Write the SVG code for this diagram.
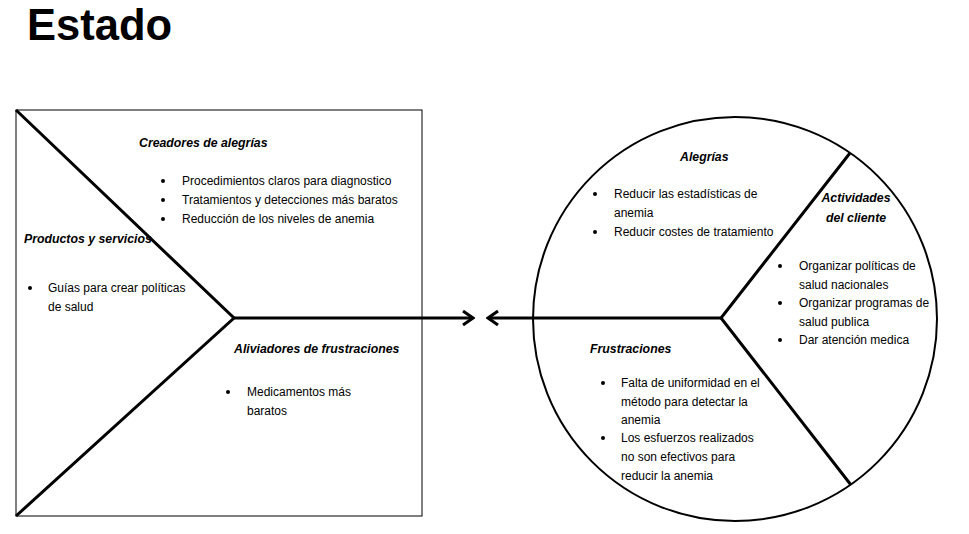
<svg xmlns="http://www.w3.org/2000/svg" width="969" height="534" viewBox="0 0 969 534">
<defs>
<style>
.t{font-family:"Liberation Sans",Arial,sans-serif;font-size:12px;fill:#000}
.h{font-family:"Liberation Sans",Arial,sans-serif;font-size:12.3px;font-weight:bold;font-style:italic;fill:#000}
.thick{stroke:#000;stroke-width:3;fill:none}
.b{fill:#000}
</style>
<marker id="chev" viewBox="0 0 14 16" refX="12" refY="8" markerWidth="14" markerHeight="16" markerUnits="userSpaceOnUse" orient="auto">
<polyline points="2,1 12,8 2,15" fill="none" stroke="#000" stroke-width="3"/>
</marker>
</defs>
<rect width="969" height="534" fill="#fff"/>
<text x="27" y="39.5" font-family="'Liberation Sans',Arial,sans-serif" font-size="43.5" font-weight="bold">Estado</text>

<g id="value-map">
<rect x="16" y="110" width="406" height="406" fill="none" stroke="#000" stroke-width="1"/>
<polyline class="thick" points="16,110 234,318 16,516"/>
<line class="thick" x1="234" y1="318" x2="422" y2="318"/>
<text class="h" x="139" y="147">Creadores de alegrías</text>
<circle class="b" cx="163" cy="181" r="2"/><text class="t" x="182" y="185">Procedimientos claros para diagnostico</text>
<circle class="b" cx="163" cy="200" r="2"/><text class="t" x="182" y="204">Tratamientos y detecciones más baratos</text>
<circle class="b" cx="163" cy="219" r="2"/><text class="t" x="182" y="223">Reducción de los niveles de anemia</text>
<text class="h" x="24" y="243">Productos y servicios</text>
<circle class="b" cx="30" cy="288" r="2"/><text class="t" x="48" y="292">Guías para crear políticas</text>
<text class="t" x="48" y="311">de salud</text>
<text class="h" x="234" y="353">Aliviadores de frustraciones</text>
<circle class="b" cx="228" cy="392" r="2"/><text class="t" x="247" y="396">Medicamentos más</text>
<text class="t" x="247" y="415">baratos</text>
</g>

<g id="customer-profile">
<circle cx="735" cy="319" r="202" fill="none" stroke="#000" stroke-width="2"/>
<polyline class="thick" points="850,153 721,318 851,485"/>
<text class="h" x="680" y="161">Alegrías</text>
<circle class="b" cx="595" cy="194" r="2"/><text class="t" x="614" y="198">Reducir las estadísticas de</text>
<text class="t" x="614" y="217">anemia</text>
<circle class="b" cx="595" cy="232" r="2"/><text class="t" x="614" y="236">Reducir costes de tratamiento</text>
<text class="h" x="856" y="202" text-anchor="middle">Actividades</text>
<text class="h" x="856" y="222" text-anchor="middle">del cliente</text>
<circle class="b" cx="780" cy="266" r="2"/><text class="t" x="799" y="270">Organizar políticas de</text>
<text class="t" x="799" y="289">salud nacionales</text>
<circle class="b" cx="780" cy="303" r="2"/><text class="t" x="799" y="307">Organizar programas de</text>
<text class="t" x="799" y="326">salud publica</text>
<circle class="b" cx="780" cy="340" r="2"/><text class="t" x="799" y="344">Dar atención medica</text>
<text class="h" x="590" y="353">Frustraciones</text>
<circle class="b" cx="603" cy="383" r="2"/><text class="t" x="621" y="387">Falta de uniformidad en el</text>
<text class="t" x="621" y="406">método para detectar la</text>
<text class="t" x="621" y="424">anemia</text>
<circle class="b" cx="603" cy="438" r="2"/><text class="t" x="621" y="442">Los esfuerzos realizados</text>
<text class="t" x="621" y="461">no son efectivos para</text>
<text class="t" x="621" y="480">reducir la anemia</text>
</g>

<g id="connectors">
<line class="thick" x1="422" y1="318" x2="473" y2="318" marker-end="url(#chev)"/>
<line class="thick" x1="721" y1="318" x2="488" y2="318" marker-end="url(#chev)"/>
</g>
</svg>
